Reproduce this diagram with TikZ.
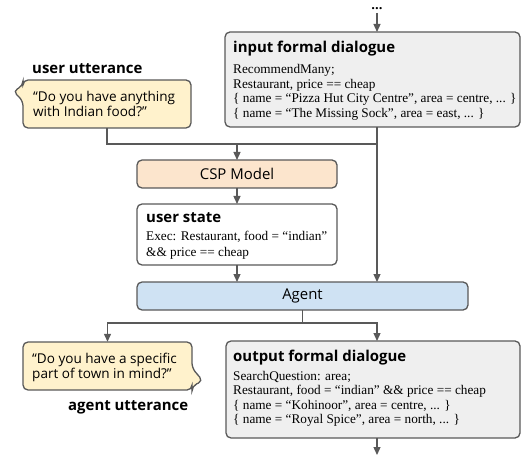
\documentclass[tikz,border=0pt]{standalone}
\usepackage{fontspec}
\setmainfont{Liberation Serif}
\setsansfont{Open Sans}
\usetikzlibrary{arrows.meta}
\definecolor{edge}{HTML}{595959}
\definecolor{graybox}{HTML}{EFEFEF}
\definecolor{peach}{HTML}{FCE5CD}
\definecolor{lightblue}{HTML}{CFE2F3}
\definecolor{cream}{HTML}{FFF2CC}
\tikzset{
  box/.style={draw=edge, line width=1.3bp, rounded corners=5bp, inner sep=0pt, outer sep=0pt},
  conn/.style={draw=edge, line width=1.3bp},
  arr/.style={conn, -{Triangle[length=8bp,width=7bp]}},
  bubble/.style={conn, fill=cream, rounded corners=5bp},
  ttl/.style={font=\sffamily\bfseries\fontsize{15}{17}\selectfont, anchor=base west, inner sep=0pt},
  code/.style={font=\rmfamily\fontsize{13.3}{14.5}\selectfont, anchor=base west, inner sep=0pt},
  say/.style={font=\sffamily\fontsize{13.6}{15}\selectfont, anchor=base west, inner sep=0pt},
  lbl/.style={font=\sffamily\fontsize{15}{17}\selectfont},
}
\begin{document}
\begin{tikzpicture}[x=1bp,y=-1bp]
\useasboundingbox (0,0) rectangle (521,461);
% dots
\node[font=\sffamily\bfseries\fontsize{13}{15}\selectfont, anchor=base, inner sep=0pt] (dots) at (377,10) {...};
\coordinate (top) at (377,13);
% input formal dialogue
\node[box, fill=graybox, minimum width=295bp, minimum height=95bp] (in) at (372.5,79.5) {};
\node[ttl] (inT) at (233,52.5) {input formal dialogue};
\node[code] (in1) at (233,74) {RecommendMany;};
\node[code] (in2) at (233,88.5) {Restaurant, price == cheap};
\node[code] (in3) at (233,103) {\{ name = “Pizza Hut City Centre”, area = centre, ... \}};
\node[code] (in4) at (233,117.5) {\{ name = “The Missing Sock”, area = east, ... \}};
% user utterance
\node[ttl] (uuL) at (32,74) {user utterance};
\draw[bubble] (107,80) -- (191,80) -- (191,128) -- (23,128) -- (23,101) -- (13,91) -- (23,86) -- (23,80) -- cycle;
\node[inner sep=0pt, minimum width=168bp, minimum height=48bp] (ubub) at (107,104) {};
\node[say] (ub1) at (33,101.5) {“Do you have anything};
\node[say] (ub2) at (33,116.5) {with Indian food?”};
% CSP model
\node[box, lbl, fill=peach, minimum width=200bp, minimum height=28bp] (csp) at (237,174) {CSP Model};
% user state
\node[box, fill=white, minimum width=200bp, minimum height=61bp] (us) at (237,234.5) {};
\node[ttl] (usT) at (146,222.5) {user state};
\node[code] (us1) at (146,241) {Exec: Restaurant, food = “indian”};
\node[code] (us2) at (146,257) {\&\& price == cheap};
% agent
\node[box, lbl, fill=lightblue, minimum width=331bp, minimum height=28bp] (agent) at (302.5,296) {Agent};
% agent utterance bubble
\draw[bubble] (23,342) -- (192,342) -- (192,368) -- (203,381) -- (192,386) -- (192,390) -- (23,390) -- cycle;
\node[inner sep=0pt, minimum width=169bp, minimum height=48bp] (abub) at (107.5,366) {};
\node[say] (ab1) at (32,363.5) {“Do you have a specific};
\node[say] (ab2) at (32,378) {part of town in mind?”};
\node[ttl] (auL) at (68,410) {agent utterance};
% output formal dialogue
\node[box, fill=graybox, minimum width=294bp, minimum height=97bp] (out) at (373,389.5) {};
\node[ttl] (outT) at (233,361.5) {output formal dialogue};
\node[code] (out1) at (233,380) {SearchQuestion: area;};
\node[code] (out2) at (233,394.5) {Restaurant, food = “indian” \&\& price == cheap};
\node[code] (out3) at (233,409) {\{ name = “Kohinoor”, area = centre, ... \}};
\node[code] (out4) at (233,423.5) {\{ name = “Royal Spice”, area = north, ... \}};
\coordinate (end) at (377,455);
% connectors
\coordinate (jr) at (377,144);
\coordinate (jb) at (302.5,323);
\draw[arr] (top) -- (top |- in.north);
\draw[conn] (ubub.south) |- (jr);
\draw[arr] (csp.north |- jr) -- (csp.north);
\draw[arr] (top |- in.south) -- (top |- agent.north);
\draw[arr] (csp.south) -- (us.north);
\draw[arr] (us.south) -- (us.south |- agent.north);
\draw[conn] (agent.south) -- (jb);
\draw[arr] (jb) -| (abub.north);
\draw[arr] (jb) -| (top |- out.north);
\draw[arr] (top |- out.south) -- (end);
\end{tikzpicture}
\end{document}
